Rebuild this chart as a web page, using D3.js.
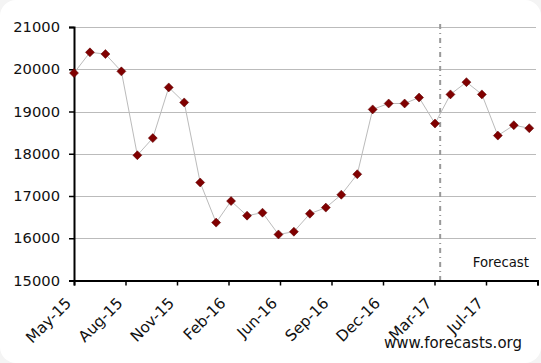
<!DOCTYPE html>
<html>
<head>
<meta charset="utf-8">
<script src="https://cdn.jsdelivr.net/npm/d3@7"></script>
<style>
  body { margin: 0; background: #f4f4f4; }
  svg { display: block; }
  text { font-family: "DejaVu Sans", Verdana, sans-serif; fill: #111; }
</style>
</head>
<body>
<svg id="chart" width="541" height="363"></svg>
<script>
// monthly values, first of each month
const months = [
  "2015-05", "2015-06", "2015-07", "2015-08", "2015-09", "2015-10",
  "2015-11", "2015-12", "2016-01", "2016-02", "2016-03", "2016-04",
  "2016-05", "2016-06", "2016-07", "2016-08", "2016-09", "2016-10",
  "2016-11", "2016-12", "2017-01", "2017-02", "2017-03", "2017-04",
  "2017-05", "2017-06", "2017-07", "2017-08", "2017-09", "2017-10"
];
const values = [
  19910, 20400, 20360, 19950, 17965, 18370,
  19570, 19215, 17320, 16370, 16880, 16535,
  16605, 16090, 16155, 16580, 16725, 17030,
  17515, 19050, 19190, 19190, 19330, 18715,
  19405, 19695, 19405, 18430, 18675, 18605
];
const yTicks = [15000, 16000, 17000, 18000, 19000, 20000, 21000];
const axisStart = "2015-05-01";
const tickStepDays = 100;   // excel style date axis, major unit 100 days
const tickCount = 9;
const forecastDate = "2017-04-11";

const parseMonth = d3.timeParse("%Y-%m");
const parseDay = d3.timeParse("%Y-%m-%d");
const data = months.map((m, i) => ({ date: parseMonth(m), value: values[i] }));

const start = parseDay(axisStart);
const xTickDates = d3.range(tickCount + 1).map(i => d3.timeDay.offset(start, i * tickStepDays));

const svg = d3.select("#chart");

// white card with rounded corners
svg.append("rect")
  .attr("x", 0).attr("y", 0)
  .attr("width", 541).attr("height", 363)
  .attr("rx", 16)
  .attr("fill", "#fff");

const plotLeft = 74, plotRight = 537.5, plotTop = 27, plotBottom = 280.5;

const x = d3.scaleTime()
  .domain([start, xTickDates[xTickDates.length - 1]])
  .range([plotLeft, plotRight]);

const y = d3.scaleLinear()
  .domain([15000, 21000])
  .range([plotBottom, plotTop]);

// gridlines
svg.append("g")
  .selectAll("line")
  .data(yTicks.slice(1))
  .join("line")
  .attr("x1", plotLeft)
  .attr("x2", 536)
  .attr("y1", d => Math.round(y(d)) + 0.5)
  .attr("y2", d => Math.round(y(d)) + 0.5)
  .attr("stroke", "#bbb")
  .attr("stroke-width", 1);

// forecast divider
svg.append("line")
  .attr("x1", x(parseDay(forecastDate)))
  .attr("x2", x(parseDay(forecastDate)))
  .attr("y1", 24)
  .attr("y2", plotBottom)
  .attr("stroke", "#999")
  .attr("stroke-width", 2)
  .attr("stroke-dasharray", "5,4,1,4");

svg.append("text")
  .attr("x", 529)
  .attr("y", 267)
  .attr("text-anchor", "end")
  .style("font-size", "13.3px")
  .text("Forecast");

// y axis
const yAxis = svg.append("g")
  .attr("transform", `translate(${plotLeft},0)`)
  .call(d3.axisLeft(y).tickValues(yTicks).tickFormat(d3.format("d")).tickSize(5).tickPadding(9));

// x axis
const xAxis = svg.append("g")
  .attr("transform", `translate(0,${plotBottom})`)
  .call(d3.axisBottom(x)
    .tickValues(xTickDates)
    .tickFormat((d, i) => i < tickCount ? d3.timeFormat("%b-%y")(d) : "")
    .tickSize(5));

[yAxis, xAxis].forEach(g => {
  g.select(".domain").attr("stroke", "#000").attr("stroke-width", 2);
  g.selectAll(".tick line").attr("stroke", "#000").attr("stroke-width", 1.5);
  g.selectAll("text")
    .attr("fill", "#111")
    .style("font-family", "DejaVu Sans, Verdana, sans-serif")
    .style("font-size", "14.7px");
});

xAxis.selectAll(".tick text")
  .attr("text-anchor", "end")
  .attr("dy", "0")
  .style("font-size", "15.3px")
  .attr("transform", "translate(-8,18) rotate(-45)");

// series line
svg.append("path")
  .datum(data)
  .attr("fill", "none")
  .attr("stroke", "#bbb")
  .attr("stroke-width", 1)
  .attr("d", d3.line().x(d => x(d.date)).y(d => y(d.value)));

// diamond markers
const r = 4.5;
svg.append("g")
  .selectAll("path")
  .data(data)
  .join("path")
  .attr("transform", d => `translate(${x(d.date)},${y(d.value)})`)
  .attr("d", `M0,${-r}L${r},0L0,${r}L${-r},0Z`)
  .attr("fill", "#800000")
  .attr("stroke", "#5a0000")
  .attr("stroke-width", 0.5);

// watermark
svg.append("text")
  .attr("x", 522)
  .attr("y", 348)
  .attr("text-anchor", "end")
  .style("font-size", "15px")
  .text("www.forecasts.org");
</script>
</body>
</html>
